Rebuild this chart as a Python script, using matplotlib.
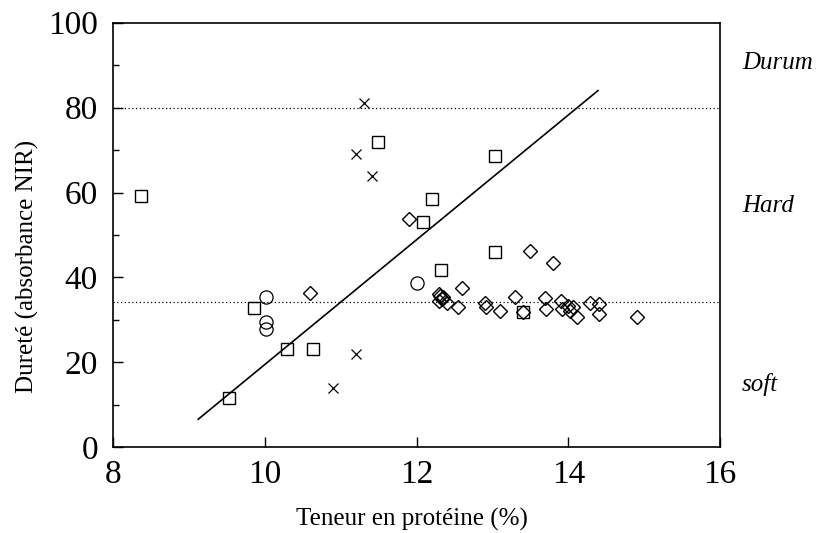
import numpy as np
import matplotlib
matplotlib.use("Agg")
import matplotlib.pyplot as plt
from matplotlib.ticker import MultipleLocator

plt.rcParams['font.family'] = ['Liberation Serif', 'DejaVu Serif']

# crosses
cross_x = [11.30, 11.20, 11.41, 11.20, 10.90]
cross_y = [81.1, 69.0, 64.0, 22.0, 14.0]

# squares
square_x = [8.37, 11.49, 12.20, 12.08, 13.03, 13.03, 12.32, 13.40, 9.85, 10.29, 10.64, 9.52]
square_y = [59.3, 71.8, 58.4, 53.0, 68.5, 46.0, 41.8, 31.9, 32.7, 23.1, 23.1, 11.7]

# circles
circle_x = [10.01, 10.01, 10.01, 12.00]
circle_y = [35.5, 29.5, 27.9, 38.7]

# diamonds
diamond_x = [11.90, 10.60, 13.50, 13.80, 12.60,
             12.29, 12.31, 12.33, 12.30, 12.35,
             12.40, 12.54, 12.90, 12.91, 13.10, 13.30, 13.40,
             13.69, 13.70, 13.90, 13.91, 14.00, 14.02, 14.06, 14.11,
             14.29, 14.40, 14.40, 14.90]
diamond_y = [53.8, 36.3, 46.3, 43.4, 37.6,
             36.2, 35.6, 35.0, 34.5, 35.3,
             33.9, 33.1, 33.9, 33.0, 32.1, 35.5, 31.8,
             35.1, 32.5, 34.5, 32.5, 33.3, 32.2, 33.1, 30.6,
             33.9, 33.8, 31.3, 30.6]

# regression line end points
fit_x = [9.12, 14.39]
fit_y = [6.6, 84.0]

# class limits
limits = [80, 34.3]
classes = ['Durum', 'Hard', 'soft']
class_y = [90.6, 56.9, 14.7]

fig = plt.figure(figsize=(8.16, 5.33), dpi=100)
ax = fig.add_axes([0.1388, 0.1608, 0.8824 - 0.1388, 0.9574 - 0.1608])

for lim in limits:
    ax.axhline(lim, color='black', linestyle=(0, (1, 2)), linewidth=0.9)

ax.plot(fit_x, fit_y, color='black', linewidth=1.2)

ax.plot(cross_x, cross_y, 'x', color='black', markersize=7, markeredgewidth=0.9)
ax.plot(square_x, square_y, 's', mfc='none', mec='black', markersize=8.5, markeredgewidth=1.0)
ax.plot(circle_x, circle_y, 'o', mfc='none', mec='black', markersize=9.5, markeredgewidth=0.9)
ax.plot(diamond_x, diamond_y, 'D', mfc='none', mec='black', markersize=7.5, markeredgewidth=1.0)

ax.set_xlim(8, 16)
ax.set_ylim(0, 100)
ax.xaxis.set_major_locator(MultipleLocator(2))
ax.yaxis.set_major_locator(MultipleLocator(20))
ax.yaxis.set_minor_locator(MultipleLocator(10))
ax.tick_params(axis='both', which='major', direction='in', length=7, width=1,
               labelsize=24)
ax.tick_params(axis='x', which='major', pad=9)
ax.tick_params(axis='y', which='major', pad=11)
ax.tick_params(axis='y', which='minor', direction='in', length=4, width=1)
for s in ax.spines.values():
    s.set_linewidth(1.2)

ax.set_xlabel('Teneur en protéine (%)', fontsize=18, va='center')
ax.set_ylabel('Dureté (absorbance NIR)', fontsize=18, va='center')
ax.xaxis.set_label_coords(0.4915, -0.171)
ax.yaxis.set_label_coords(-0.142, 0.425)

for name, yv in zip(classes, class_y):
    ax.text(1.036, yv, name, transform=ax.get_yaxis_transform(), fontsize=18,
            style='italic', va='center', ha='left')

fig.savefig('out.png', dpi=100)
